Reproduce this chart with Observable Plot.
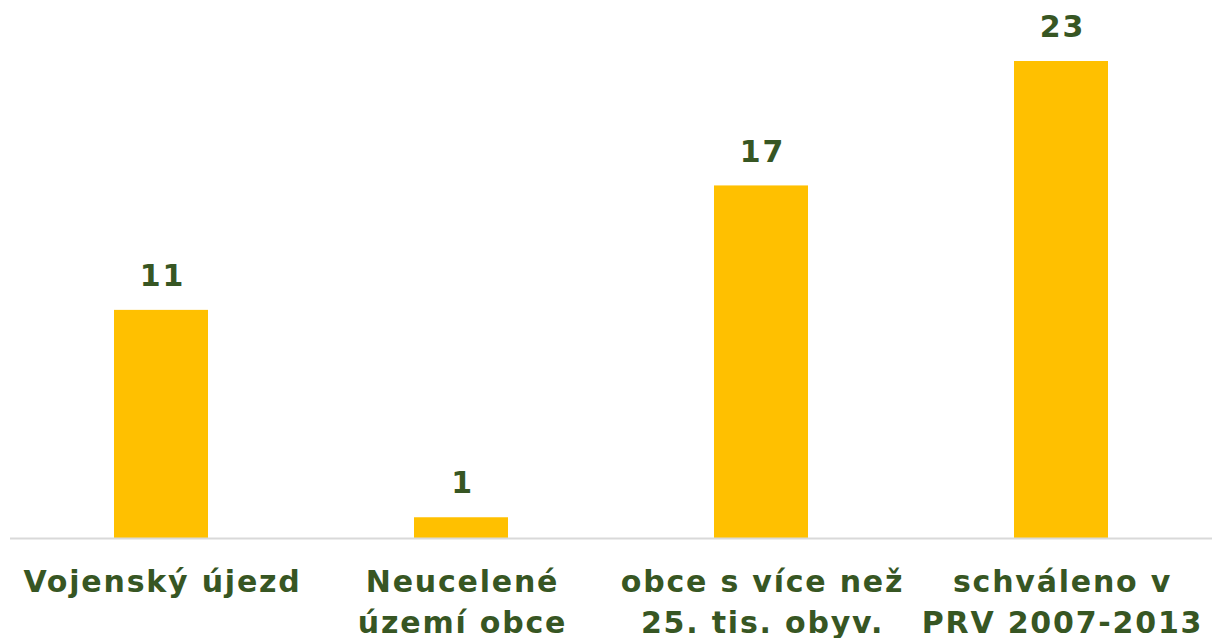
<!DOCTYPE html>
<html>
<head>
<meta charset="utf-8">
<script src="https://cdn.jsdelivr.net/npm/d3@7"></script>
<script src="https://cdn.jsdelivr.net/npm/@observablehq/plot@0.6"></script>
<style>
  html, body { margin: 0; padding: 0; background: #fff; }
  #chart svg { display: block; }
</style>
</head>
<body>
<div id="chart"></div>
<script>
const categories = [
  "Vojenský újezd",
  "Neucelené\núzemí obce",
  "obce s více než\n25. tis. obyv.",
  "schváleno v\nPRV 2007-2013"
];
const values = [11, 1, 17, 23];

const data = categories.map((c, i) => ({category: c, value: values[i]}));

const textColor = "#375623";
const font = "Verdana, 'DejaVu Sans', sans-serif";

const chart = Plot.plot({
  width: 1212,
  height: 638,
  marginLeft: 10,
  marginRight: 0,
  marginTop: 61,
  marginBottom: 100,
  style: {fontFamily: font, background: "#fff", letterSpacing: "1.8px"},
  x: {domain: categories, paddingInner: 0.687, paddingOuter: 0.3435, label: null},
  y: {domain: [0, 23], axis: null},
  marks: [
    Plot.barY(data, {x: "category", y: "value", fill: "#FFC000"}),
    Plot.ruleY([0], {stroke: "#d9d9d9", strokeWidth: 2}),
    Plot.text(data, {
      x: "category", y: "value", text: d => String(d.value),
      dy: -34, dx: 1, fontSize: 30, fontWeight: "bold", fill: textColor
    }),
    Plot.axisX({
      tickSize: 0, tickPadding: 25, fontSize: 30, fontWeight: "bold",
      fill: textColor, lineHeight: 1.36, dx: 1, label: null
    })
  ]
});
document.getElementById("chart").appendChild(chart);
</script>
</body>
</html>
